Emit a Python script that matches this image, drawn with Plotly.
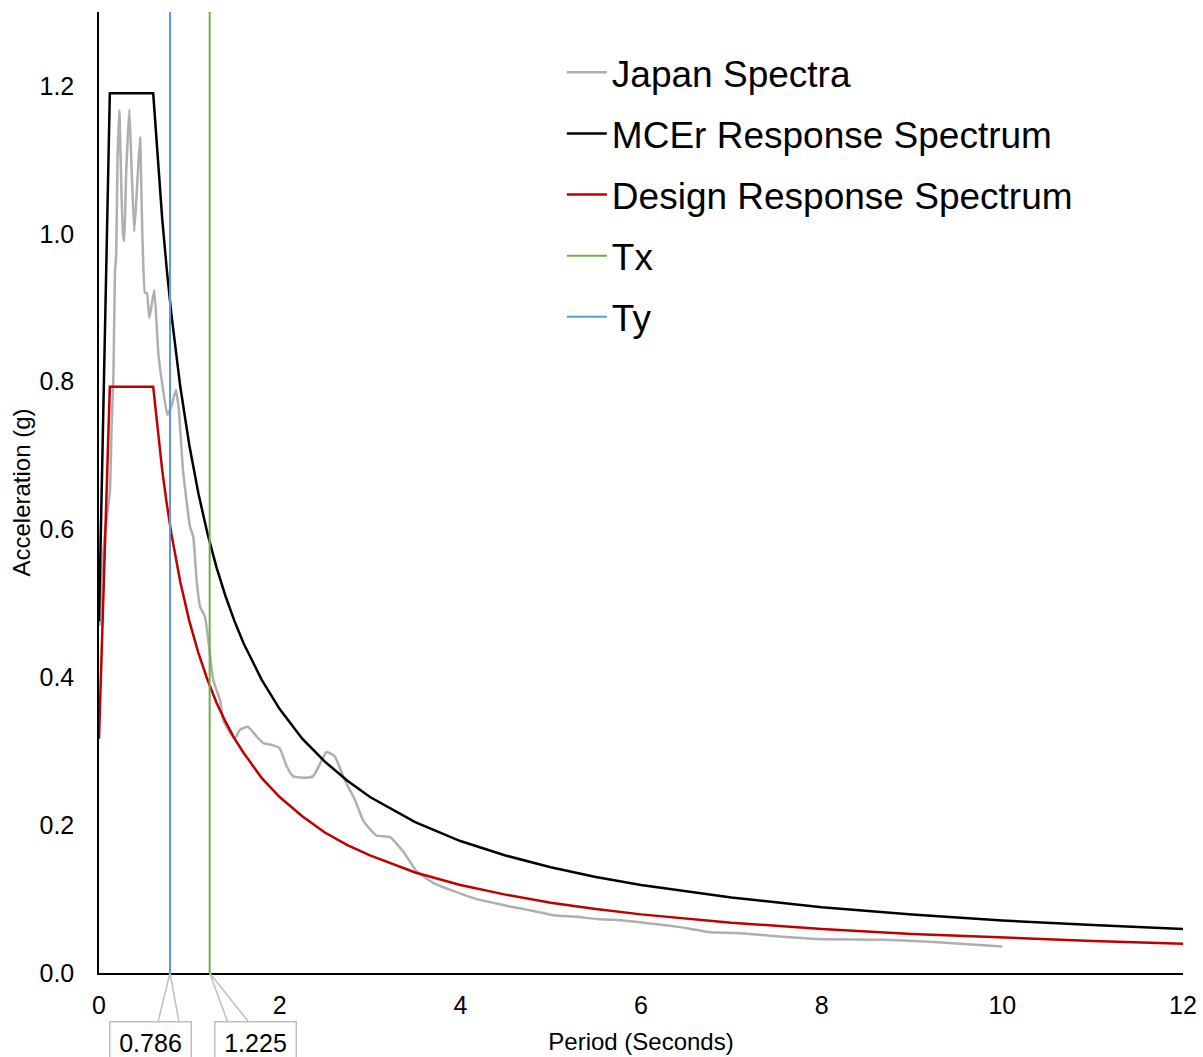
import plotly.graph_objects as go

# ---------------- data ----------------
japan_T = [0.01, 0.03, 0.07, 0.12, 0.14, 0.16, 0.177, 0.19, 0.205, 0.225,
           0.25, 0.265, 0.28, 0.30, 0.336, 0.36, 0.39, 0.42, 0.454, 0.48,
           0.509, 0.53, 0.557, 0.585, 0.613, 0.657, 0.694, 0.757, 0.80, 0.852,
           0.885, 0.93, 1.007, 1.044, 1.08, 1.118, 1.173, 1.21, 1.265, 1.34,
           1.376, 1.45, 1.505, 1.56, 1.65, 1.745, 1.82, 1.93, 2.0, 2.08,
           2.15, 2.26, 2.37, 2.45, 2.52, 2.61, 2.72, 2.83, 2.93, 3.07,
           3.22, 3.37, 3.52, 3.70, 3.92, 4.18, 4.40, 4.55, 4.81, 5.03,
           5.29, 5.51, 5.70, 6.03, 6.32, 6.54, 6.76, 7.06, 7.47, 7.95,
           8.68, 9.24, 10.0]
japan_Sa = [0.47, 0.54, 0.60, 0.65, 0.74, 0.81, 0.95, 0.97, 1.10, 1.167,
            1.05, 1.00, 0.99, 1.08, 1.168, 1.09, 1.003, 1.06, 1.131, 1.00,
            0.92, 0.92, 0.886, 0.905, 0.924, 0.838, 0.802, 0.755, 0.766, 0.789,
            0.76, 0.68, 0.604, 0.59, 0.532, 0.496, 0.482, 0.45, 0.396, 0.369,
            0.342, 0.325, 0.317, 0.329, 0.333, 0.32, 0.311, 0.308, 0.304, 0.279,
            0.266, 0.264, 0.266, 0.284, 0.299, 0.293, 0.261, 0.235, 0.205, 0.186,
            0.184, 0.164, 0.137, 0.122, 0.111, 0.100, 0.094, 0.090, 0.084, 0.078,
            0.076, 0.073, 0.072, 0.068, 0.064, 0.060, 0.055, 0.054, 0.050, 0.046,
            0.045, 0.042, 0.036]

spec_T = [0, 0.12, 0.6, 0.65, 0.7, 0.75, 0.8, 0.9, 1.0, 1.1,
          1.2, 1.3, 1.4, 1.5, 1.6, 1.8, 2.0, 2.25, 2.5, 2.75,
          3.0, 3.5, 4.0, 4.5, 5.0, 5.5, 6.0, 7.0, 8.0, 9.0,
          10.0, 11.0, 12.0]
mcer_Sa = [0.476, 1.19, 1.19, 1.098, 1.02, 0.952, 0.8925, 0.793, 0.714, 0.649,
           0.595, 0.549, 0.51, 0.476, 0.446, 0.397, 0.357, 0.317, 0.286, 0.260,
           0.238, 0.204, 0.1785, 0.159, 0.143, 0.130, 0.119, 0.102, 0.089, 0.079,
           0.071, 0.065, 0.0595]
design_Sa = [0.317, 0.793, 0.793, 0.732, 0.680, 0.635, 0.595, 0.529, 0.476, 0.433,
             0.397, 0.366, 0.340, 0.317, 0.298, 0.264, 0.238, 0.212, 0.190, 0.173,
             0.159, 0.136, 0.119, 0.106, 0.095, 0.0866, 0.0793, 0.068, 0.0595, 0.0529,
             0.0476, 0.0433, 0.0397]

Tx = 1.225
Ty = 0.786
y_max = 1.3
x_ticks = [0, 2, 4, 6, 8, 10, 12]

# ---------------- figure ----------------
FONT = "Liberation Sans, Arial, sans-serif"
fig = go.Figure()

fig.add_trace(go.Scatter(x=japan_T, y=japan_Sa, mode="lines", name="Japan Spectra",
                         legendgroup="a",
                         line=dict(color="#afafaf", width=2.5, shape="spline", smoothing=0.4)))
fig.add_trace(go.Scatter(x=spec_T, y=mcer_Sa, mode="lines", name="MCEr Response Spectrum",
                         legendgroup="b", line=dict(color="#000000", width=2.5)))
fig.add_trace(go.Scatter(x=spec_T, y=design_Sa, mode="lines", name="Design Response Spectrum",
                         legendgroup="c", line=dict(color="#c00000", width=2.5)))
fig.add_trace(go.Scatter(x=[Tx, Tx], y=[0, y_max], mode="lines", name="Tx",
                         legendgroup="d", line=dict(color="#70ad47", width=2)))
fig.add_trace(go.Scatter(x=[Ty, Ty], y=[0, y_max], mode="lines", name="Ty",
                         legendgroup="e", line=dict(color="#5b9bd5", width=2)))

label_color = "#bfbfbf"
annotations = []
shapes = []
for val, txt, shift, legs in [(Ty, f"{Ty:.3f}", -20, (-12, 9)), (Tx, f"{Tx:.3f}", 46, (18, 39))]:
    annotations.append(dict(x=val, y=0, xref="x", yref="paper", text=txt, showarrow=False,
                            xanchor="center", yanchor="middle",
                            xshift=shift, yshift=-69, width=70, height=30, borderpad=5,
                            bordercolor=label_color, borderwidth=1.5, bgcolor="rgba(0,0,0,0)",
                            font=dict(family=FONT, size=25, color="#000000")))
    for dx in legs:
        shapes.append(dict(type="line", xref="x", yref="paper", xsizemode="pixel",
                           ysizemode="pixel", xanchor=val, yanchor=0,
                           x0=0, y0=0, x1=dx, y1=-49,
                           line=dict(color=label_color, width=1.5)))

fig.update_layout(
    width=1203, height=1057,
    margin=dict(l=99, r=20, t=12, b=84, autoexpand=False),
    paper_bgcolor="white", plot_bgcolor="white",
    font=dict(family=FONT, color="#000000"),
    showlegend=True,
    legend=dict(x=0.427, y=0.969, xanchor="left", yanchor="top",
                font=dict(family=FONT, size=37, color="#000000"),
                bgcolor="rgba(0,0,0,0)", tracegroupgap=10, itemwidth=40),
    annotations=annotations,
    shapes=shapes,
)
fig.update_xaxes(range=[0, 12], tickvals=x_ticks, showgrid=False, zeroline=False,
                 automargin=False,
                 showline=True, linecolor="#000000", linewidth=1.5,
                 ticks="outside", ticklen=9, tickcolor="rgba(0,0,0,0)",
                 tickfont=dict(family=FONT, size=25),
                 title=dict(text="Period (Seconds)", font=dict(family=FONT, size=24), standoff=15))
fig.update_yaxes(range=[0, y_max], dtick=0.2, tickformat=".1f", showgrid=False, zeroline=False,
                 automargin=False,
                 showline=True, linecolor="#000000", linewidth=1.5,
                 ticks="outside", ticklen=18, tickcolor="rgba(0,0,0,0)",
                 tickfont=dict(family=FONT, size=25),
                 title=dict(text="Acceleration (g)", font=dict(family=FONT, size=24), standoff=2))

fig.write_html("out.html", config={"displayModeBar": False},
               post_script="document.body.style.margin='0';document.body.style.overflow='hidden';")
